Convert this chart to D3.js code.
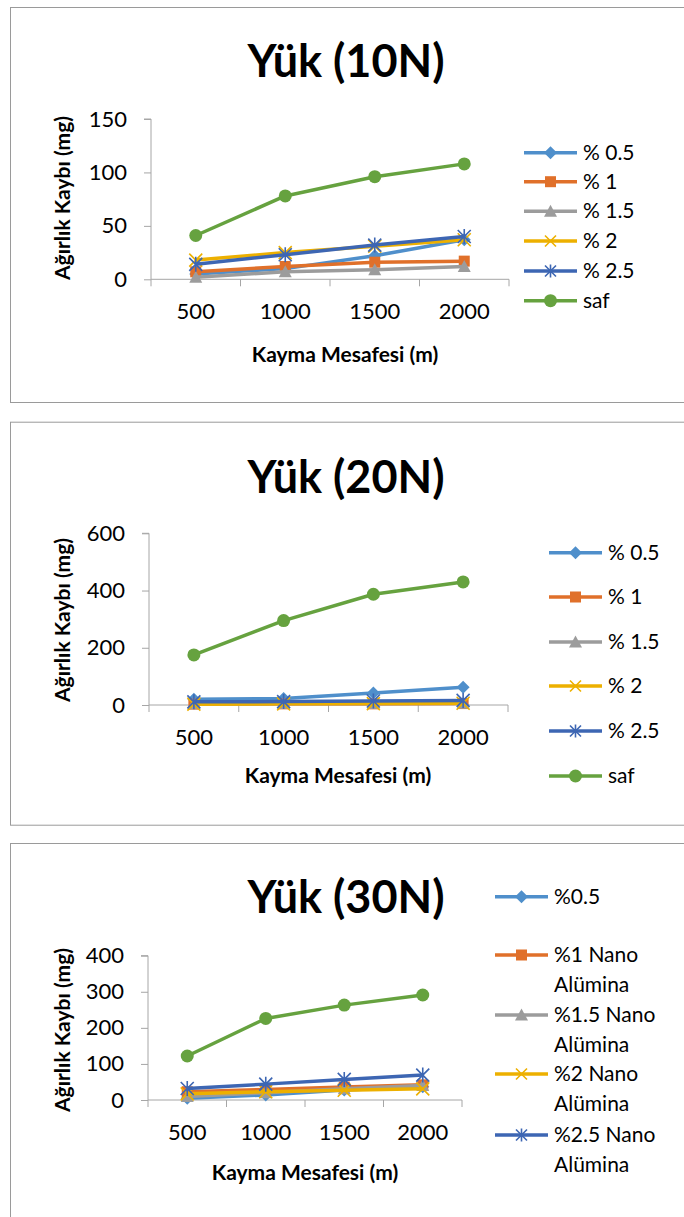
<!DOCTYPE html>
<html><head><meta charset="utf-8">
<script src="https://cdn.jsdelivr.net/npm/d3@7"></script>
<style>
html,body{margin:0;padding:0;background:#fff;}
svg{display:block;font-family:Lato,"Open Sans",sans-serif;}
</style></head>
<body>
<svg id="c" width="684" height="1217"></svg>
<script>
// ---- data ----
const categories = ["500", "1000", "1500", "2000"];
const legend10 = ["% 0.5", "% 1", "% 1.5", "% 2", "% 2.5", "saf"];
const legend20 = ["% 0.5", "% 1", "% 1.5", "% 2", "% 2.5", "saf"];
const legend30 = ["%0.5", "%1 Nano Alümina", "%1.5 Nano Alümina", "%2 Nano Alümina", "%2.5 Nano Alümina", "saf"];

const y10_p05 = [5, 10, 22, 37];
const y10_p1  = [7, 12, 16, 17];
const y10_p15 = [2, 7, 9, 12];
const y10_p2  = [18, 25, 31, 37];
const y10_p25 = [14, 23, 32, 40];
const y10_saf = [41, 78, 96, 108];

const y20_p05 = [20, 23, 42, 62];
const y20_p1  = [3, 4, 4, 5];
const y20_p15 = [4, 5, 5, 6];
const y20_p2  = [3, 4, 5, 6];
const y20_p25 = [11, 12, 14, 16];
const y20_saf = [175, 295, 387, 430];

const y30_p05 = [5, 14, 28, 37];
const y30_p1  = [23, 29, 36, 42];
const y30_p15 = [10, 20, 31, 40];
const y30_p2  = [17, 23, 27, 31];
const y30_p25 = [32, 44, 57, 69];
const y30_saf = [122, 226, 263, 291];

const ticks10 = [0, 50, 100, 150];
const ticks20 = [0, 200, 400, 600];
const ticks30 = [0, 100, 200, 300, 400];

const titles = ["Yük (10N)", "Yük (20N)", "Yük (30N)"];
const xTitle = "Kayma Mesafesi (m)";
const yTitle = "Ağırlık Kaybı (mg)";

// ---- styles ----
const colors = ["#4F8FCB", "#E0702A", "#9C9C9C", "#EDB000", "#3D66B3", "#66A23F"];
const markers = ["diamond", "square", "triangle", "x", "star", "circle"];

const charts = [
  {box:{x:10,y:7,h:395}, plot:{l:151,r:509,t:119,b:279.3}, ticks:ticks10, title:titles[0], titleY:77,
   data:[y10_p05,y10_p1,y10_p15,y10_p2,y10_p25,y10_saf], legend:legend10,
   leg:{x:524, y:[152.7,181.7,211.3,241,271,300.7], n:6, wrap:false}, xl:{x:345,y:362}, yl:{x:70,y:198}},
  {box:{x:10,y:421.7,h:403}, plot:{l:149,r:508,t:533.3,b:705}, ticks:ticks20, title:titles[1], titleY:493,
   data:[y20_p05,y20_p1,y20_p15,y20_p2,y20_p25,y20_saf], legend:legend20,
   leg:{x:549, y:[552.7,597,642,686,731,776], n:6, wrap:false}, xl:{x:338,y:783}, yl:{x:70,y:620}},
  {box:{x:10,y:843,h:420}, plot:{l:148,r:462,t:955.7,b:1100}, ticks:ticks30, title:titles[2], titleY:913,
   data:[y30_p05,y30_p1,y30_p15,y30_p2,y30_p25,y30_saf], legend:legend30,
   leg:{x:495, y:[896.7,955,1015,1074,1135], n:5, wrap:true}, xl:{x:305,y:1180}, yl:{x:70,y:1030}}
];

const svg = d3.select("#c");

function drawMarker(g, type, color, cx, cy, s) {
  const h = s/2;
  if (type === "circle") {
    g.append("circle").attr("cx",cx).attr("cy",cy).attr("r",h+0.5).attr("fill",color);
  } else if (type === "square") {
    g.append("rect").attr("x",cx-h).attr("y",cy-h).attr("width",s).attr("height",s).attr("fill",color);
  } else if (type === "diamond") {
    g.append("path").attr("d",`M${cx},${cy-h-1}L${cx+h+1},${cy}L${cx},${cy+h+1}L${cx-h-1},${cy}Z`).attr("fill",color);
  } else if (type === "triangle") {
    g.append("path").attr("d",`M${cx},${cy-h-1}L${cx+h+1},${cy+h}L${cx-h-1},${cy+h}Z`).attr("fill",color);
  } else if (type === "x") {
    g.append("path").attr("d",`M${cx-h},${cy-h}L${cx+h},${cy+h}M${cx-h},${cy+h}L${cx+h},${cy-h}`)
      .attr("stroke",color).attr("stroke-width",1.6).attr("fill","none");
  } else if (type === "star") {
    g.append("path").attr("d",`M${cx-h},${cy-h}L${cx+h},${cy+h}M${cx-h},${cy+h}L${cx+h},${cy-h}M${cx},${cy-h-1}L${cx},${cy+h+1}`)
      .attr("stroke",color).attr("stroke-width",1.6).attr("fill","none");
  }
}

charts.forEach(ch => {
  const g = svg.append("g");
  // frame
  g.append("rect").attr("x",ch.box.x+0.5).attr("y",ch.box.y+0.5).attr("width",700).attr("height",ch.box.h)
    .attr("fill","#fff").attr("stroke","#9a9a9a").attr("stroke-width",1);

  const x = d3.scaleBand().domain(categories).range([ch.plot.l, ch.plot.r]);
  const yMax = ch.ticks[ch.ticks.length-1];
  const y = d3.scaleLinear().domain([0, yMax]).range([ch.plot.b, ch.plot.t]);

  // y axis
  const ya = g.append("g").attr("transform",`translate(${ch.plot.l},0)`)
    .call(d3.axisLeft(y).tickValues(ch.ticks).tickSize(7).tickPadding(17).tickFormat(d3.format("d")));
  ya.selectAll("path,line").attr("stroke","#a6a6a6");
  ya.select(".domain").attr("d",`M-7,${y(yMax)}H0V${y(0)}`);
  ya.selectAll("text").attr("font-size",22).attr("fill","#000").attr("font-family","Lato");

  // x axis
  const xa = g.append("g").attr("transform",`translate(0,${ch.plot.b})`)
    .call(d3.axisBottom(x).tickSize(0).tickPadding(24));
  xa.selectAll(".tick line").remove();
  xa.select(".domain").attr("stroke","#a6a6a6").attr("d",`M${ch.plot.l},0H${ch.plot.r}`);
  xa.selectAll("text").attr("font-size",22).attr("fill","#000").attr("font-family","Lato");
  // category boundary ticks
  const bounds = categories.map(c => x(c)).concat([x(categories[categories.length-1]) + x.bandwidth()]);
  xa.selectAll(".bt").data(bounds).join("line").attr("class","bt")
    .attr("x1",d=>d).attr("x2",d=>d).attr("y1",0).attr("y2",7).attr("stroke","#a6a6a6");

  // series
  ch.data.forEach((vals, i) => {
    const line = d3.line().x((d,k)=>x(categories[k]) + x.bandwidth()/2).y(d=>y(d));
    g.append("path").datum(vals).attr("d", line).attr("fill","none")
      .attr("stroke", colors[i]).attr("stroke-width", 3.5).attr("stroke-linejoin","round");
    vals.forEach((v,k) => {
      const sz = markers[i]==="circle" ? 12 : (markers[i]==="x"||markers[i]==="star") ? 13 : 11;
      drawMarker(g, markers[i], colors[i], x(categories[k]) + x.bandwidth()/2, y(v), sz);
    });
  });

  // title
  g.append("text").attr("x",346).attr("y",ch.titleY).attr("text-anchor","middle")
    .attr("font-size",45).attr("font-weight","bold").attr("fill","#000").text(ch.title);
  // axis titles
  g.append("text").attr("x",ch.xl.x).attr("y",ch.xl.y).attr("text-anchor","middle")
    .attr("font-size",21).attr("font-weight","bold").attr("fill","#000").text(xTitle);
  g.append("text").attr("transform",`translate(${ch.yl.x},${ch.yl.y}) rotate(-90)`).attr("text-anchor","middle")
    .attr("font-size",21).attr("font-weight","bold").attr("fill","#000").text(yTitle);

  // legend
  for (let i = 0; i < ch.leg.n; i++) {
    const ly = ch.leg.y[i];
    const lg = g.append("g");
    const lx0 = ch.leg.x, lx1 = ch.leg.x + 53;
    lg.append("line").attr("x1",lx0).attr("x2",lx1).attr("y1",ly).attr("y2",ly)
      .attr("stroke",colors[i]).attr("stroke-width",3.5);
    drawMarker(lg, markers[i], colors[i], (lx0+lx1)/2, ly, markers[i]==="circle"?12:11);
    const name = ch.legend[i];
    const t = lg.append("text").attr("x",lx1+6).attr("y",ly+7).attr("font-size",21).attr("fill","#000");
    if (ch.leg.wrap && name.includes(" Nano ")) {
      const parts = name.split(" ");
      t.append("tspan").attr("x",lx1+6).attr("dy",0).text(parts[0] + " " + parts[1]);
      t.append("tspan").attr("x",lx1+6).attr("dy",30).text(parts[2]);
    } else {
      t.text(name);
    }
  }
});
</script>
</body></html>
